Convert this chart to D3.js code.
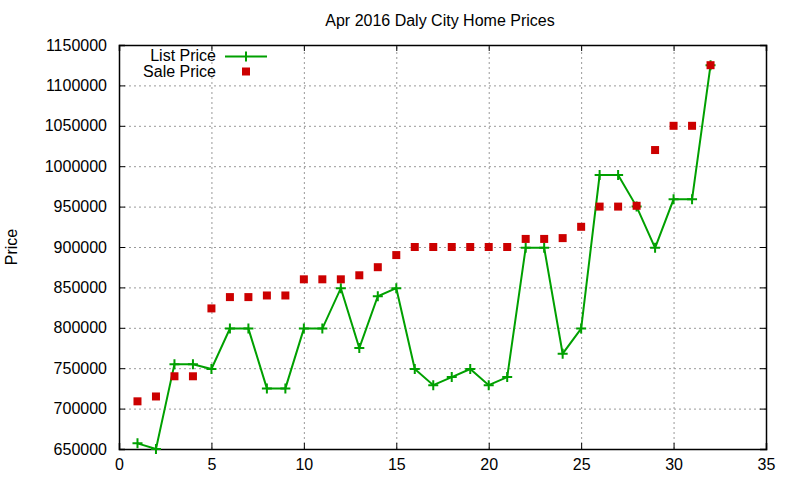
<!DOCTYPE html>
<html>
<head>
<meta charset="utf-8">
<script src="https://cdn.jsdelivr.net/npm/d3@7"></script>
<style>
  body { margin: 0; background: #fff; }
  text { font-family: "Liberation Sans", Arial, sans-serif; }
</style>
</head>
<body>
<div class="chart"></div>
<script>
// data
const days = d3.range(1, 33)
const listPrice = [657000, 650000, 755000, 755000, 749000, 799000, 799000, 725000, 725000, 799000,
  799000, 849000, 775000, 839000, 849000, 749000, 729000, 739000, 749000, 729000,
  739000, 899000, 899000, 768000, 799000, 989000, 989000, 950000, 899000, 959000,
  959000, 1125000]
const salePrice = [709000, 715000, 740000, 740000, 824000, 838000, 838000, 840000, 840000, 860000,
  860000, 860000, 865000, 875000, 890000, 900000, 900000, 900000, 900000, 900000,
  900000, 910000, 910000, 911000, 925000, 950000, 950000, 951000, 1020000, 1050000,
  1050000, 1125000]
const xTicks = [0, 5, 10, 15, 20, 25, 30, 35]
const yTicks = d3.range(650000, 1150001, 50000)

const width = 800
const height = 480
const margin = {top: 45, right: 34, bottom: 31, left: 119}

const green = "#00a000"
const red = "#cc0000"

let x = d3.scaleLinear()
  .domain([0, 35])
  .range([margin.left, width - margin.right])

let y = d3.scaleLinear()
  .domain([650000, 1150000])
  .range([height - margin.bottom, margin.top])

const svg = d3.select('.chart').append("svg")
  .attr("width", width)
  .attr("height", height)

// grid
let grid = svg.append("g")
  .attr("stroke", "#999")
  .attr("stroke-width", 1)
  .attr("stroke-dasharray", "2,3")
grid.selectAll("line.gx")
  .data(xTicks.slice(1, -1))
  .join("line")
    .attr("x1", d => x(d) + 0.5).attr("x2", d => x(d) + 0.5)
    .attr("y1", y(650000)).attr("y2", y(1150000))
grid.selectAll("line.gy")
  .data(yTicks.slice(1, -1))
  .join("line")
    .attr("class", "gy")
    .attr("x1", x(0)).attr("x2", x(35))
    .attr("y1", d => y(d) + 0.5).attr("y2", d => y(d) + 0.5)

// axes, ticks pointing inward on all four sides
let xAxis = g => g
  .attr("transform", `translate(0,${height - margin.bottom})`)
  .call(d3.axisBottom(x).tickValues(xTicks).tickSize(-6).tickPadding(10).tickFormat(d3.format("d")))
let xAxisTop = g => g
  .attr("transform", `translate(0,${margin.top})`)
  .call(d3.axisTop(x).tickValues(xTicks).tickSize(-6).tickFormat(""))
let yAxis = g => g
  .attr("transform", `translate(${margin.left},0)`)
  .call(d3.axisLeft(y).tickValues(yTicks).tickSize(-6).tickPadding(12).tickFormat(d3.format("d")))
let yAxisRight = g => g
  .attr("transform", `translate(${width - margin.right},0)`)
  .call(d3.axisRight(y).tickValues(yTicks).tickSize(-6).tickFormat(""))

;[xAxis, xAxisTop, yAxis, yAxisRight].forEach(ax => {
  svg.append("g")
    .call(ax)
    .call(g => g.selectAll("path.domain").attr("stroke", "#000").attr("stroke-width", 1.5))
    .call(g => g.selectAll(".tick line").attr("stroke", "#000"))
    .call(g => g.selectAll(".tick text").attr("font-size", 16).attr("fill", "#000")
      .attr("font-family", "'Liberation Sans', Arial, sans-serif"))
})

// list price line with plus markers
let line = d3.line()
  .x((d, i) => x(days[i]))
  .y(d => y(d))

svg.append("path")
  .datum(listPrice)
  .attr("fill", "none")
  .attr("stroke", green)
  .attr("stroke-width", 2)
  .attr("d", line)

svg.append("g")
    .attr("stroke", green)
    .attr("stroke-width", 2)
  .selectAll("path")
  .data(listPrice)
  .join("path")
    .attr("d", (d, i) => `M${x(days[i]) - 5},${y(d)}h10M${x(days[i])},${y(d) - 5}v10`)

// sale price squares
svg.append("g")
    .attr("fill", red)
  .selectAll("rect")
  .data(salePrice)
  .join("rect")
    .attr("x", (d, i) => x(days[i]) - 4)
    .attr("y", d => y(d) - 4)
    .attr("width", 8)
    .attr("height", 8)

// legend
let legend = svg.append("g")
  .attr("font-size", 16)
  .attr("text-anchor", "end")
legend.append("text").attr("x", 216).attr("y", 61).text("List Price")
legend.append("text").attr("x", 216).attr("y", 77).text("Sale Price")
legend.append("path")
  .attr("stroke", green).attr("stroke-width", 2)
  .attr("d", "M225,56.5h42M246,51.5v10")
legend.append("rect")
  .attr("fill", red)
  .attr("x", 242).attr("y", 67.5).attr("width", 8).attr("height", 8)

// title and y label
svg.append("text")
  .attr("x", 440).attr("y", 26)
  .attr("text-anchor", "middle")
  .attr("font-size", 16)
  .text("Apr 2016 Daly City Home Prices")

svg.append("text")
  .attr("transform", "translate(17,247) rotate(-90)")
  .attr("text-anchor", "middle")
  .attr("font-size", 16)
  .text("Price")
</script>
</body>
</html>
